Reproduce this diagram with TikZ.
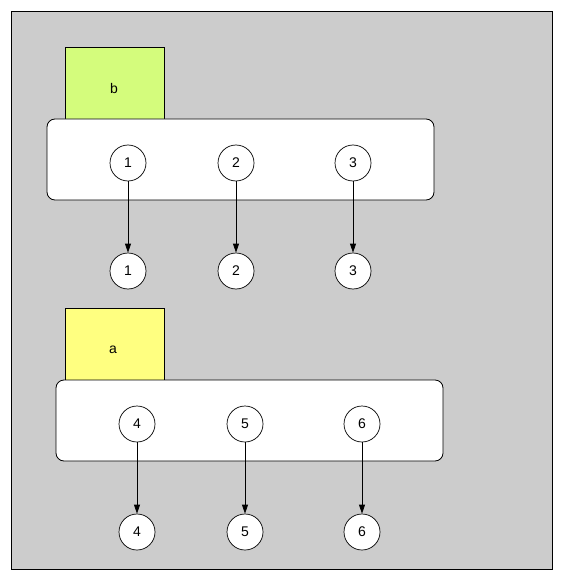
\documentclass[tikz,border=0pt]{standalone}
\usepackage{fontspec}
\setmainfont{Liberation Sans}
\usetikzlibrary{arrows.meta}
\definecolor{bggray}{HTML}{CCCCCC}
\definecolor{lgreen}{HTML}{D4FC7C}
\definecolor{lyellow}{HTML}{FFFF80}
\tikzset{
  every node/.style={font=\fontsize{14}{16}\selectfont},
  lbl/.style={draw, line width=0.8pt, minimum width=99pt, minimum height=72pt, inner sep=0pt},
  grp/.style={draw, fill=white, line width=0.8pt, rounded corners=8pt, minimum width=387pt, minimum height=81pt, inner sep=0pt},
  num/.style={draw, circle, fill=white, line width=0.7pt, minimum size=36pt, inner sep=0pt},
  conn/.style={line width=0.8pt, -{Triangle[length=9pt,width=6pt]}}
}
\begin{document}
\begin{tikzpicture}[x=1pt,y=-1pt]
\useasboundingbox (0,0) rectangle (562,580);
\fill[white] (0,0) rectangle (562,580);
\draw[fill=bggray, line width=0.8pt] (11,11) rectangle (552,569);
% group b
\node[lbl, fill=lgreen] (lb) at (114.5,83) {};
\node at (114,88) (tb) {b};
\node[grp] (gb) at (240.5,159.5) {};
\node[num] (b1) at (128,163) {1};
\node[num] (b2) at (236,163) {2};
\node[num] (b3) at (353,163) {3};
\node[num] (o1) at (128,271) {1};
\node[num] (o2) at (236,271) {2};
\node[num] (o3) at (353,271) {3};
\draw[conn] (b1) -- (o1);
\draw[conn] (b2) -- (o2);
\draw[conn] (b3) -- (o3);
% group a
\node[lbl, fill=lyellow] (la) at (114.5,344) {};
\node at (113,350) (ta) {a};
\node[grp] (ga) at (249.5,420.5) {};
\node[num] (a4) at (137,424) {4};
\node[num] (a5) at (245,424) {5};
\node[num] (a6) at (362,424) {6};
\node[num] (p4) at (137,532) {4};
\node[num] (p5) at (245,532) {5};
\node[num] (p6) at (362,532) {6};
\draw[conn] (a4) -- (p4);
\draw[conn] (a5) -- (p5);
\draw[conn] (a6) -- (p6);
\end{tikzpicture}
\end{document}
